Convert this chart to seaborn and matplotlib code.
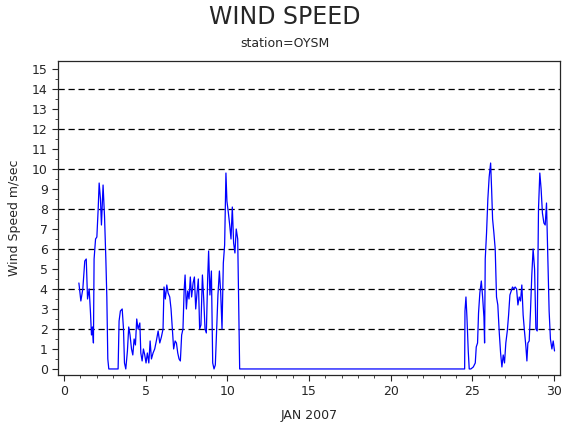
import numpy as np
import pandas as pd
import matplotlib
matplotlib.use("Agg")
import matplotlib.pyplot as plt
from matplotlib.ticker import MultipleLocator
import seaborn as sns

sns.set_style("ticks")
plt.rcParams['font.family'] = ['DejaVu Sans']

# Values (day of month, wind speed m/sec).
days = [0.92, 1.04, 1.16, 1.28, 1.37, 1.45, 1.55, 1.63, 1.69, 1.75, 1.81, 1.85, 1.94,
        2.02, 2.10, 2.16, 2.24, 2.30, 2.40, 2.49, 2.57, 2.63, 2.69, 2.75, 3.32, 3.38,
        3.46, 3.57, 3.65, 3.71, 3.79, 3.89, 3.97, 4.05, 4.14, 4.22, 4.30, 4.38, 4.46,
        4.54, 4.65, 4.71, 4.79, 4.87, 4.95, 5.03, 5.11, 5.20, 5.28, 5.36, 5.46, 5.56,
        5.66, 5.77, 5.87, 5.97, 6.07, 6.13, 6.21, 6.30, 6.38, 6.48, 6.56, 6.64, 6.72,
        6.81, 6.89, 6.97, 7.05, 7.13, 7.21, 7.29, 7.36, 7.42, 7.50, 7.58, 7.66, 7.74,
        7.82, 7.91, 7.99, 8.07, 8.15, 8.23, 8.31, 8.39, 8.48, 8.56, 8.64, 8.72, 8.80,
        8.86, 8.94, 9.03, 9.11, 9.19, 9.27, 9.35, 9.43, 9.52, 9.60, 9.68, 9.76, 9.84,
        9.92, 9.98, 10.07, 10.15, 10.23, 10.31, 10.39, 10.47, 10.55, 10.64, 10.70, 10.76,
        24.53, 24.55, 24.61, 24.67, 24.75, 24.81, 24.91, 25.06, 25.18, 25.24, 25.32,
        25.38, 25.46, 25.55, 25.63, 25.71, 25.75, 25.79, 25.87, 25.95, 26.03, 26.12,
        26.18, 26.24, 26.32, 26.40, 26.48, 26.56, 26.65, 26.73, 26.81, 26.89, 26.97,
        27.05, 27.14, 27.22, 27.30, 27.38, 27.46, 27.54, 27.62, 27.71, 27.79, 27.87,
        27.95, 28.03, 28.11, 28.19, 28.28, 28.34, 28.40, 28.48, 28.56, 28.64, 28.72,
        28.81, 28.89, 28.97, 29.05, 29.13, 29.21, 29.29, 29.38, 29.46, 29.54, 29.62,
        29.70, 29.78, 29.87, 29.95, 30.03]
speed = [4.3, 3.4, 4.0, 5.4, 5.5, 3.5, 4.0, 2.8, 1.7, 2.1, 1.3, 5.5, 6.5,
         6.6, 8.0, 9.3, 8.5, 7.2, 9.2, 7.6, 5.5, 3.6, 0.5, 0.0, 0.0, 2.4,
         2.9, 3.0, 2.0, 0.3, 0.0, 0.9, 2.1, 1.7, 1.0, 0.7, 1.5, 1.2, 2.5,
         2.0, 2.3, 0.8, 0.4, 1.0, 0.7, 0.3, 0.8, 0.3, 1.4, 0.5, 0.8, 1.0,
         1.4, 1.9, 1.3, 1.6, 2.0, 4.1, 3.5, 4.2, 3.8, 3.6, 3.0, 2.0, 1.0,
         1.4, 1.3, 0.8, 0.5, 0.4, 1.7, 2.0, 3.9, 4.7, 3.0, 3.9, 3.5, 4.6,
         3.6, 4.3, 4.6, 3.0, 3.8, 4.5, 2.0, 2.2, 4.7, 3.5, 2.0, 1.8, 4.5,
         5.9, 3.7, 4.9, 0.3, 0.0, 0.2, 1.9, 3.7, 4.9, 3.8, 2.0, 5.3, 6.2,
         9.8, 8.4, 7.8, 7.2, 6.5, 8.1, 6.3, 5.8, 7.0, 6.5, 3.4, 0.0,
         0.0, 2.9, 3.6, 2.6, 0.9, 0.0, 0.0, 0.1, 0.3, 1.1, 1.3,
         2.8, 3.8, 4.4, 3.6, 2.6, 1.3, 5.5, 6.8, 8.5, 9.6, 10.3,
         9.0, 7.5, 6.8, 6.0, 3.6, 3.2, 1.8, 0.8, 0.1, 0.7, 0.3,
         1.3, 1.9, 2.7, 3.7, 3.9, 4.1, 4.0, 4.1, 4.0, 3.2, 3.6,
         3.4, 4.2, 2.7, 1.9, 1.1, 0.4, 1.3, 1.4, 2.9, 4.7, 6.0,
         5.0, 2.0, 1.9, 8.0, 9.8, 9.0, 7.8, 7.3, 7.2, 8.3, 5.7,
         2.9, 1.5, 1.0, 1.4, 0.9]

df = pd.DataFrame({"day": days, "speed": speed})

fig = plt.figure(figsize=(5.7, 4.3), dpi=100)
ax = fig.add_axes([0.102, 0.128, 0.880, 0.730])
sns.lineplot(data=df, x="day", y="speed", ax=ax, color="blue", lw=0.9,
             sort=False, estimator=None)

for yv in range(2, 15, 2):
    ax.axhline(yv, color="black", lw=0.9, ls=(0, (5, 3)), zorder=0)

ax.set_xlim(-0.35, 30.35)
ax.set_ylim(-0.3, 15.4)
ax.set_xticks([0, 5, 10, 15, 20, 25, 30])
ax.set_yticks(range(0, 16))
ax.xaxis.set_minor_locator(MultipleLocator(1))
ax.yaxis.set_minor_locator(MultipleLocator(0.5))
ax.tick_params(direction="out", labelsize=9, length=4, width=0.8)
ax.tick_params(which="minor", length=2)
for s in ax.spines.values():
    s.set_linewidth(0.9)

ax.set_xlabel("JAN 2007", fontsize=9, labelpad=8)
ax.set_ylabel("Wind Speed m/sec", fontsize=9, labelpad=8)
fig.text(0.5, 0.945, "WIND SPEED", ha="center", fontsize=17)
fig.text(0.5, 0.89, "station=OYSM", ha="center", fontsize=9)

fig.savefig("out.png", dpi=100)
